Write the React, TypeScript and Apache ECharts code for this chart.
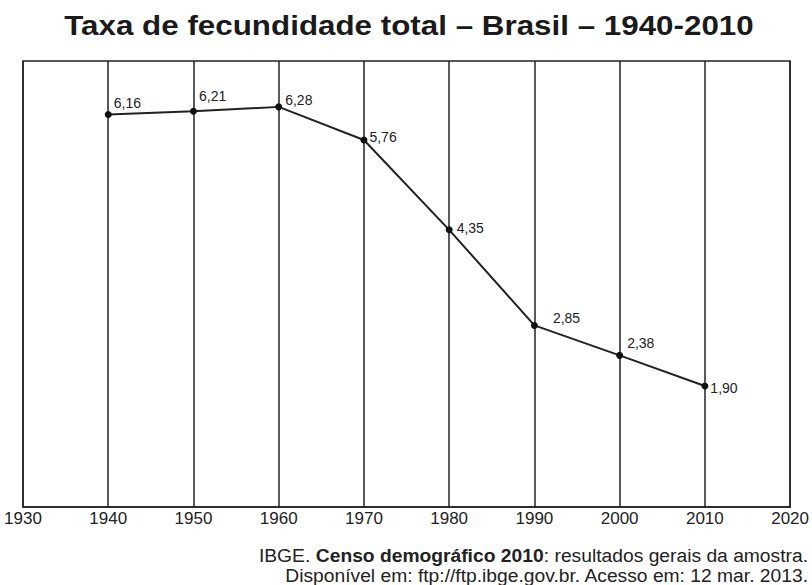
import React, { useEffect, useRef } from "react";
import * as echarts from "echarts";

const years = [1940, 1950, 1960, 1970, 1980, 1990, 2000, 2010];
const rates = [6.16, 6.21, 6.28, 5.76, 4.35, 2.85, 2.38, 1.9];
const xTicks = [1930, 1940, 1950, 1960, 1970, 1980, 1990, 2000, 2010, 2020];
const titleText = "Taxa de fecundidade total – Brasil – 1940-2010";
const sourceLine1 = "IBGE. {b|Censo demográfico 2010}: resultados gerais da amostra.";
const sourceLine2 = "Disponível em: ftp://ftp.ibge.gov.br. Acesso em: 12 mar. 2013.";

// label offsets (styling only)
const labelOffsets: [number, number][] = [
  [-2, -12], [-2, -15], [-1, -7], [-2, -3], [0, -2], [11, -7], [0, -12], [-2, 2],
];

const FONT = "'Liberation Sans', Arial, Helvetica, sans-serif";

export default function App() {
  const ref = useRef<HTMLDivElement>(null);
  useEffect(() => {
    if (!ref.current) return;
    const chart = echarts.init(ref.current, undefined, { renderer: "svg" });
    const data = years.map((y, i) => ({
      value: [y, rates[i]],
      label: { offset: labelOffsets[i] },
    }));
    chart.setOption({
      animation: false,
      backgroundColor: "#ffffff",
      grid: {
        left: 23,
        right: 19,
        top: 61,
        bottom: 78,
        show: true,
        borderColor: "#222",
        borderWidth: 1.5,
        backgroundColor: "transparent",
      },
      xAxis: {
        type: "value",
        min: xTicks[0],
        max: xTicks[xTicks.length - 1],
        interval: 10,
        axisLine: { show: true, lineStyle: { color: "#222", width: 1.5 } },
        axisTick: { show: false },
        splitLine: { show: true, lineStyle: { color: "#222", width: 1.5 } },
        axisLabel: {
          fontFamily: FONT,
          fontSize: 17,
          color: "#222",
          margin: 3,
          formatter: (v: number) => String(v),
          showMinLabel: true,
          showMaxLabel: true,
        },
      },
      yAxis: {
        type: "value",
        min: 0,
        max: 7,
        show: false,
        splitLine: { show: false },
      },
      series: [
        {
          type: "line",
          data,
          symbol: "circle",
          symbolSize: 7,
          itemStyle: { color: "#111" },
          lineStyle: { color: "#222", width: 2 },
          label: {
            show: true,
            position: "right",
            distance: 4,
            fontFamily: FONT,
            fontSize: 14,
            color: "#222",
            formatter: (p: any) => p.value[1].toFixed(2).replace(".", ","),
          },
        },
      ],
      graphic: [
        {
          type: "text",
          x: 409,
          y: 25,
          scaleX: 1.12,
          style: {
            text: titleText,
            fontFamily: FONT,
            fontWeight: "bold",
            fontSize: 28,
            fill: "#1a1a1a",
            align: "center",
            verticalAlign: "middle",
          },
        },
        {
          type: "text",
          x: 808,
          y: 556,
          scaleX: 1.07,
          style: {
            text: sourceLine1,
            fontFamily: FONT,
            fontSize: 18,
            fill: "#222",
            align: "right",
            verticalAlign: "middle",
            rich: {
              b: {
                fontFamily: FONT,
                fontSize: 18,
                fontWeight: "bold",
                fill: "#222",
              },
            },
          },
        },
        {
          type: "text",
          x: 808,
          y: 576,
          scaleX: 1.07,
          style: {
            text: sourceLine2,
            fontFamily: FONT,
            fontSize: 18,
            fill: "#222",
            align: "right",
            verticalAlign: "middle",
          },
        },
      ],
    });
    return () => chart.dispose();
  }, []);
  return <div ref={ref} style={{ width: 812, height: 585, position: "absolute", left: 0, top: 0 }} />;
}
